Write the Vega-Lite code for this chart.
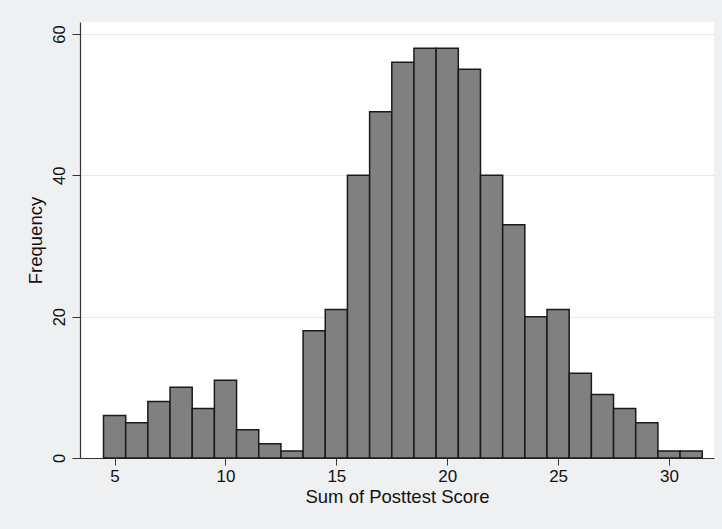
{
  "$schema": "https://vega.github.io/schema/vega-lite/v6.json",
  "width": 634,
  "height": 436,
  "autosize": {"type": "none"},
  "padding": {"left": 80, "top": 22, "right": 8, "bottom": 71},
  "background": "#eff0f2",
  "config": {
    "view": {"fill": "white", "stroke": null},
    "font": "Liberation Sans"
  },
  "data": {
    "values": [
      {"score": 5, "lo": 4.5, "hi": 5.5, "freq": 6},
      {"score": 6, "lo": 5.5, "hi": 6.5, "freq": 5},
      {"score": 7, "lo": 6.5, "hi": 7.5, "freq": 8},
      {"score": 8, "lo": 7.5, "hi": 8.5, "freq": 10},
      {"score": 9, "lo": 8.5, "hi": 9.5, "freq": 7},
      {"score": 10, "lo": 9.5, "hi": 10.5, "freq": 11},
      {"score": 11, "lo": 10.5, "hi": 11.5, "freq": 4},
      {"score": 12, "lo": 11.5, "hi": 12.5, "freq": 2},
      {"score": 13, "lo": 12.5, "hi": 13.5, "freq": 1},
      {"score": 14, "lo": 13.5, "hi": 14.5, "freq": 18},
      {"score": 15, "lo": 14.5, "hi": 15.5, "freq": 21},
      {"score": 16, "lo": 15.5, "hi": 16.5, "freq": 40},
      {"score": 17, "lo": 16.5, "hi": 17.5, "freq": 49},
      {"score": 18, "lo": 17.5, "hi": 18.5, "freq": 56},
      {"score": 19, "lo": 18.5, "hi": 19.5, "freq": 58},
      {"score": 20, "lo": 19.5, "hi": 20.5, "freq": 58},
      {"score": 21, "lo": 20.5, "hi": 21.5, "freq": 55},
      {"score": 22, "lo": 21.5, "hi": 22.5, "freq": 40},
      {"score": 23, "lo": 22.5, "hi": 23.5, "freq": 33},
      {"score": 24, "lo": 23.5, "hi": 24.5, "freq": 20},
      {"score": 25, "lo": 24.5, "hi": 25.5, "freq": 21},
      {"score": 26, "lo": 25.5, "hi": 26.5, "freq": 12},
      {"score": 27, "lo": 26.5, "hi": 27.5, "freq": 9},
      {"score": 28, "lo": 27.5, "hi": 28.5, "freq": 7},
      {"score": 29, "lo": 28.5, "hi": 29.5, "freq": 5},
      {"score": 30, "lo": 29.5, "hi": 30.5, "freq": 1},
      {"score": 31, "lo": 30.5, "hi": 31.5, "freq": 1}
    ]
  },
  "mark": {"type": "rect", "fill": "#808080", "stroke": "#1a1a1a", "strokeWidth": 1.5},
  "encoding": {
    "x": {
      "field": "lo",
      "type": "quantitative",
      "scale": {"domain": [3.44, 32.03], "nice": false, "zero": false},
      "axis": {
        "title": "Sum of Posttest Score",
        "values": [5, 10, 15, 20, 25, 30],
        "grid": false,
        "domainColor": "#333333",
        "domainWidth": 1.2,
        "tickColor": "#333333",
        "tickSize": 7,
        "labelFontSize": 17,
        "labelColor": "#111111",
        "labelPadding": 3,
        "titleFontSize": 18.5,
        "titleFontWeight": "normal",
        "titleColor": "#111111",
        "titlePadding": 3
      }
    },
    "x2": {"field": "hi"},
    "y": {
      "field": "freq",
      "type": "quantitative",
      "scale": {"domain": [0, 61.7], "nice": false},
      "axis": {
        "title": "Frequency",
        "values": [0, 20, 40, 60],
        "grid": true,
        "gridColor": "#e6e8ea",
        "gridWidth": 1.2,
        "domainColor": "#333333",
        "domainWidth": 1.2,
        "tickColor": "#333333",
        "tickSize": 8,
        "labelAngle": -90,
        "labelAlign": "center",
        "labelBaseline": "bottom",
        "labelFontSize": 16.5,
        "labelColor": "#111111",
        "labelPadding": 5,
        "titleFontSize": 18.5,
        "titleFontWeight": "normal",
        "titleColor": "#111111",
        "titlePadding": 6
      }
    },
    "y2": {"datum": 0}
  }
}
